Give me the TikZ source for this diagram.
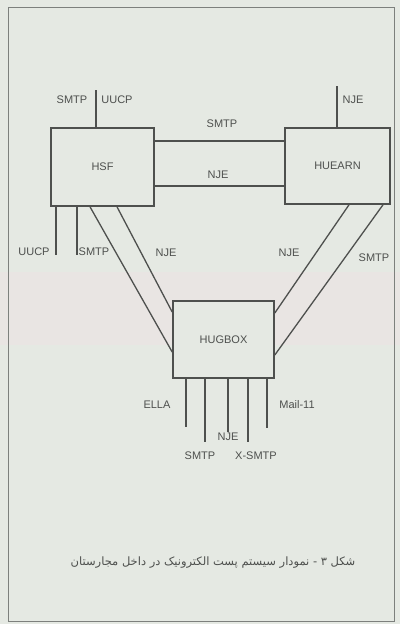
\documentclass[tikz,border=0pt]{standalone}
\usepackage{fontspec}
\setmainfont{Liberation Sans}
\newfontfamily\persianfont[Script=Arabic]{DejaVu Sans}
\TeXXeTstate=1
\usetikzlibrary{positioning,calc}
\definecolor{scanpaper}{RGB}{229,233,227}
\definecolor{scanpink}{RGB}{233,229,227}
\definecolor{scanink}{RGB}{78,80,78}
\definecolor{scanframe}{RGB}{125,128,125}

\begin{document}
\begin{tikzpicture}[x=1pt,y=-1pt,
  hostbox/.style={draw=scanink, line width=1.6pt, fill=scanpaper, font=\fontsize{11}{13}\selectfont, text=scanink, inner sep=0pt},
  link/.style={draw=scanink, line width=1.3pt},
  tag/.style={font=\fontsize{11}{13}\selectfont, text=scanink, inner sep=1pt}
]
  \useasboundingbox (0,0) rectangle (400,624);
  \fill[scanpaper] (0,0) rectangle (400,624);
  \fill[scanpink] (0,272) rectangle (400,345);
  \draw[scanframe, line width=0.8pt] (8,7) rectangle (394,621);

  \node[hostbox, minimum width=103pt, minimum height=78pt] (hsf) at (102.5,167) {HSF};
  \node[hostbox, minimum width=105pt, minimum height=76pt] (huearn) at (337.5,166) {HUEARN};
  \node[hostbox, minimum width=101pt, minimum height=77pt] (hugbox) at (223.5,339.5) {HUGBOX};

  % stubs on top
  \coordinate (hsfup) at (96,90);
  \coordinate (huearnup) at (337,86);
  \draw[link] (hsf.north -| hsfup) -- (hsfup);
  \draw[link] (huearn.north -| huearnup) -- (huearnup);

  % HSF -- HUEARN
  \draw[link] (hsf.east |- 0,141) -- (huearn.west |- 0,141);
  \draw[link] (hsf.east |- 0,186) -- (huearn.west |- 0,186);

  % stubs below HSF
  \foreach \x/\n in {56/a,77/b}{
    \coordinate (hsfdown\n) at (\x,255);
    \draw[link] (hsf.south -| hsfdown\n) -- (hsfdown\n);
  }

  % links to HUGBOX
  \draw[link] (hsf.south -| 90,0) -- (hugbox.west |- 0,352);
  \draw[link] (hsf.south -| 117,0) -- (hugbox.west |- 0,312);
  \draw[link] (huearn.south -| 349,0) -- (hugbox.east |- 0,313);
  \draw[link] (huearn.south -| 383,0) -- (hugbox.east |- 0,355);

  % stubs below HUGBOX
  \foreach \x/\y [count=\i] in {186/427,205/442,228/432,248/442,267/428}{
    \coordinate (gbdown\i) at (\x,\y);
    \draw[link] (hugbox.south -| gbdown\i) -- (gbdown\i);
  }

  % labels
  \node[tag] (smtpa) at (72,100) {SMTP};
  \node[tag] (uucpa) at (117,100) {UUCP};
  \node[tag] (njea) at (353,100) {NJE};
  \node[tag] (smtpb) at (222,124) {SMTP};
  \node[tag] (njeb) at (218,175) {NJE};
  \node[tag] (uucpb) at (34,252) {UUCP};
  \node[tag] (smtpc) at (94,252) {SMTP};
  \node[tag] (njec) at (166,253) {NJE};
  \node[tag] (njed) at (289,253) {NJE};
  \node[tag] (smtpd) at (374,258) {SMTP};
  \node[tag] (ella) at (157,405) {ELLA};
  \node[tag] (mail) at (297,405) {Mail-11};
  \node[tag] (njee) at (228,437) {NJE};
  \node[tag] (smtpe) at (200,456) {SMTP};
  \node[tag] (xsmtp) at (256,456) {X-SMTP};

  \node[font=\persianfont\fontsize{11.5}{14}\selectfont, text=scanink] (caption) at (213,563)
    {\beginR شکل ۳ - نمودار سیستم پست الکترونیک در داخل مجارستان\endR};
\end{tikzpicture}
\end{document}
